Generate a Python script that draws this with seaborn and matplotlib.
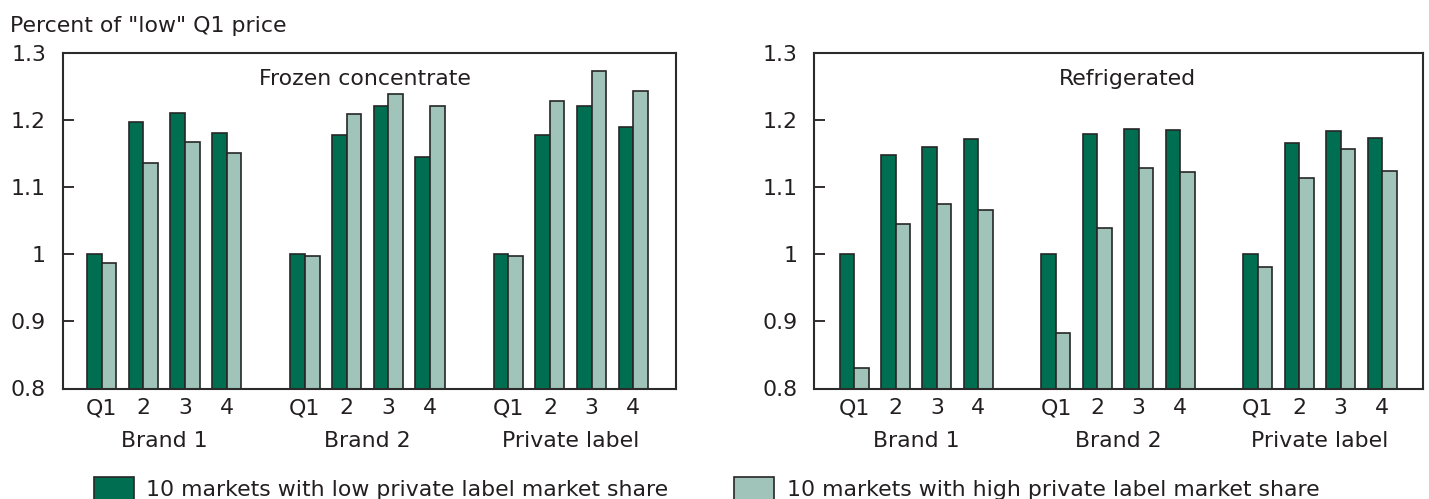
import numpy as np
import pandas as pd
import matplotlib
matplotlib.use("Agg")
import matplotlib.pyplot as plt
import matplotlib.transforms as mtransforms
from matplotlib.patches import Rectangle
from matplotlib.ticker import FuncFormatter
import seaborn as sns

# ---- data -------------------------------------------------------------
brands = ["Brand 1", "Brand 2", "Private label"]
quarters = ["Q1", "2", "3", "4"]
series_names = [
    "10 markets with low private label market share",
    "10 markets with high private label market share",
]
panel_titles = ["Frozen concentrate", "Refrigerated"]

frozen_low = [1.000, 1.197, 1.210, 1.181,
              1.000, 1.177, 1.221, 1.145,
              1.000, 1.177, 1.220, 1.190]
frozen_high = [0.987, 1.136, 1.167, 1.151,
               0.998, 1.208, 1.239, 1.221,
               0.997, 1.228, 1.273, 1.243]
refrig_low = [1.000, 1.147, 1.159, 1.171,
              1.000, 1.179, 1.187, 1.185,
              1.000, 1.165, 1.184, 1.173]
refrig_high = [0.830, 1.045, 1.075, 1.066,
               0.883, 1.039, 1.128, 1.122,
               0.981, 1.113, 1.157, 1.124]

y_ticks = [0.8, 0.9, 1.0, 1.1, 1.2, 1.3]
y_label = 'Percent of "low" Q1 price'

# ---- style ------------------------------------------------------------
dark_green = "#006E50"
light_green = "#A0C4B9"
edge = "#262626"
text_col = "#231F20"
FS = 15.8

sns.set_style("white")
plt.rcParams["font.family"] = ["DejaVu Sans"]
plt.rcParams["text.color"] = text_col
plt.rcParams["xtick.color"] = text_col
plt.rcParams["ytick.color"] = text_col

W, H = 1429, 499
fig = plt.figure(figsize=(W / 100, H / 100), dpi=100)

def fx(px):
    return px / W

def fy(py):
    return (H - py) / H

ax_top, ax_bot = 52.7, 388.5
axes_px = [(62.7, 676.0), (814.0, 1423.0)]
x_limits = [(-0.935, 13.775), (-0.97, 13.74)]

group_step = 4.875  # distance between brand groups, in quarter slots


def build_frame(low, high):
    rows = []
    for gi, brand in enumerate(brands):
        for qi, q in enumerate(quarters):
            k = gi * len(quarters) + qi
            pos = gi * group_step + qi
            rows.append((brand, q, pos, series_names[0], low[k]))
            rows.append((brand, q, pos, series_names[1], high[k]))
    return pd.DataFrame(rows, columns=["brand", "quarter", "pos", "series", "value"])


panels = [(frozen_low, frozen_high), (refrig_low, refrig_high)]

for pi, (low, high) in enumerate(panels):
    x0, x1 = axes_px[pi]
    ax = fig.add_axes([fx(x0), fy(ax_bot), (x1 - x0) / W, (ax_bot - ax_top) / H])
    df = build_frame(low, high)
    sns.barplot(
        data=df, x="pos", y="value", hue="series",
        hue_order=series_names, palette=[dark_green, light_green],
        saturation=1, native_scale=True, width=0.7, errorbar=None,
        legend=False, edgecolor=edge, linewidth=1.2, ax=ax,
    )
    ax.set_xlim(*x_limits[pi])
    ax.set_ylim(0.8, 1.3)
    ax.set_yticks(y_ticks)
    ax.yaxis.set_major_formatter(FuncFormatter(lambda v, _: f"{v:g}"))
    ax.set_xlabel("")
    ax.set_ylabel("")

    positions = sorted(df["pos"].unique())
    ax.set_xticks(positions)
    ax.set_xticklabels(quarters * len(brands))
    ax.tick_params(axis="x", bottom=True, length=0, pad=7, labelsize=FS)
    ax.tick_params(axis="y", left=True, direction="in", length=8, width=1.3,
                   pad=12, labelsize=FS, colors=text_col)

    for sp in ax.spines.values():
        sp.set_visible(True)
        sp.set_color("#2B2B2B")
        sp.set_linewidth(1.5)

    # brand names beneath each group of quarters
    trans = mtransforms.blended_transform_factory(ax.transData, ax.transAxes)
    for gi, brand in enumerate(brands):
        cx = gi * group_step + (len(quarters) - 1) / 2
        ax.text(cx, -0.1756, brand, transform=trans, ha="center",
                va="baseline", fontsize=FS)

    title_x = 0.4924 if pi == 0 else 0.515
    ax.text(title_x, 0.905, panel_titles[pi], transform=ax.transAxes,
            ha="center", va="baseline", fontsize=FS)

fig.text(fx(10), fy(32), y_label, ha="left", va="baseline", fontsize=FS)

# legend swatches and labels along the bottom edge
legend_items = [(94, dark_green, series_names[0], 146),
                (734, light_green, series_names[1], 787)]
for sx, col, label, tx in legend_items:
    fig.add_artist(Rectangle((fx(sx), fy(507)), 40 / W, 30 / H,
                             transform=fig.transFigure, facecolor=col,
                             edgecolor=edge, linewidth=1.2))
    fig.text(fx(tx), fy(496), label, ha="left", va="baseline", fontsize=FS)

fig.savefig("out.png", dpi=100)
